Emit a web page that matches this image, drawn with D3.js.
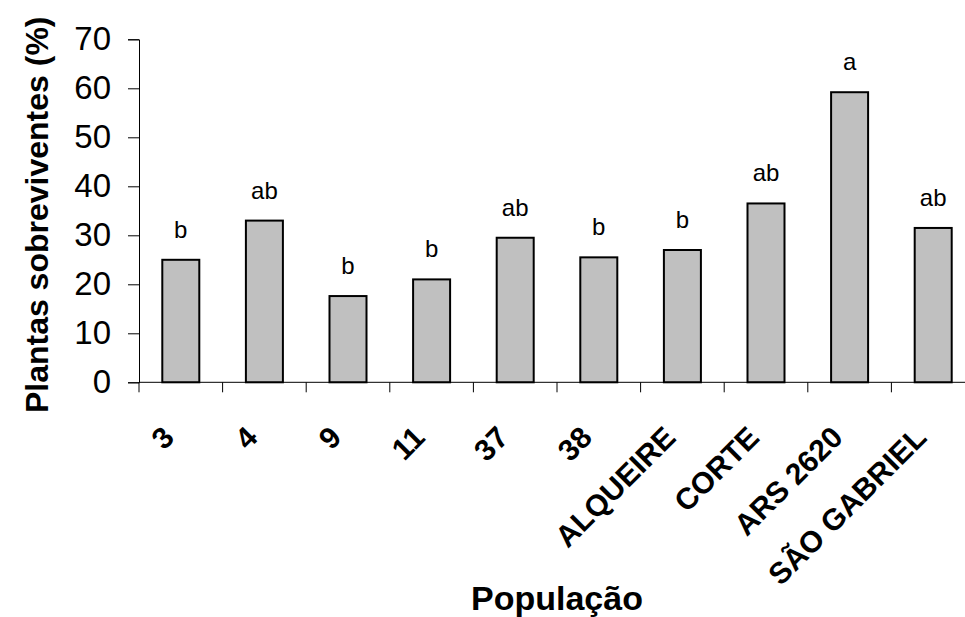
<!DOCTYPE html>
<html>
<head>
<meta charset="utf-8">
<script src="https://cdn.jsdelivr.net/npm/d3@7"></script>
<style>
  body { margin: 0; background: #fff; }
  svg { display: block; font-family: "Liberation Sans", Arial, sans-serif; }
</style>
</head>
<body>
<div id="chart"></div>
<script>
// values
const populations = ['3', '4', '9', '11', '37', '38', 'ALQUEIRE', 'CORTE', 'ARS 2620', 'SÃO GABRIEL'];
const survival = [25, 33, 17.6, 21, 29.5, 25.5, 27, 36.5, 59.2, 31.5];
const letters = ['b', 'ab', 'b', 'b', 'ab', 'b', 'b', 'ab', 'a', 'ab'];
const yTicks = [0, 10, 20, 30, 40, 50, 60, 70];

const W = 965, H = 617;
const mLeft = 139, mTop = 39.3, mBottom = 382.3, mRight = 975;

const svg = d3.select('#chart').append('svg')
    .attr('width', W)
    .attr('height', H);

const x = d3.scaleBand().domain(populations).range([mLeft, mRight]);
const y = d3.scaleLinear().domain([0, 70]).range([mBottom, mTop]);
const barW = 37;

// y axis
const yAxis = d3.axisLeft(y).tickValues(yTicks).tickSize(11).tickPadding(17);
const gy = svg.append('g')
    .attr('transform', `translate(${mLeft},0)`)
    .call(yAxis);
gy.select('.domain').attr('stroke', '#000').attr('stroke-width', 1);
gy.selectAll('.tick line').attr('stroke', '#000');
gy.selectAll('.tick text')
    .attr('font-size', 33)
    .attr('fill', '#000')
    .attr('font-family', '"Liberation Sans", Arial, sans-serif');

// bars
svg.append('g').selectAll('rect')
    .data(survival)
    .join('rect')
    .attr('x', (d, i) => x(populations[i]) + x.bandwidth() / 2 - barW / 2)
    .attr('y', d => y(d))
    .attr('width', barW)
    .attr('height', d => mBottom - y(d))
    .attr('fill', '#c0c0c0')
    .attr('stroke', '#000')
    .attr('stroke-width', 2);

// x axis (boundary ticks between categories)
svg.append('line')
    .attr('x1', mLeft).attr('x2', mRight)
    .attr('y1', mBottom).attr('y2', mBottom)
    .attr('stroke', '#000');
svg.append('g').selectAll('line')
    .data(populations)
    .join('line')
    .attr('x1', d => x(d)).attr('x2', d => x(d))
    .attr('y1', mBottom).attr('y2', mBottom + 10)
    .attr('stroke', '#000');

// significance letters
svg.append('g').selectAll('text')
    .data(letters)
    .join('text')
    .attr('x', (d, i) => x(populations[i]) + x.bandwidth() / 2)
    .attr('y', (d, i) => y(survival[i]) - 22)
    .attr('text-anchor', 'middle')
    .attr('font-size', 24)
    .text(d => d);

// rotated category labels
svg.append('g').selectAll('text')
    .data(populations)
    .join('text')
    .attr('transform', d => `translate(${x(d) + x.bandwidth() / 2 - 5},${mBottom + 57}) rotate(-45)`)
    .attr('text-anchor', 'end')
    .attr('font-size', 30)
    .attr('font-weight', 'bold')
    .text(d => d);

// axis titles
svg.append('text')
    .attr('x', (mLeft + mRight) / 2)
    .attr('y', 610)
    .attr('text-anchor', 'middle')
    .attr('font-size', 34)
    .attr('font-weight', 'bold')
    .text('População');

svg.append('text')
    .attr('transform', `translate(48,${(mTop + mBottom) / 2 + 4}) rotate(-90)`)
    .attr('text-anchor', 'middle')
    .attr('font-size', 32)
    .attr('font-weight', 'bold')
    .text('Plantas sobreviventes (%)');
</script>
</body>
</html>
